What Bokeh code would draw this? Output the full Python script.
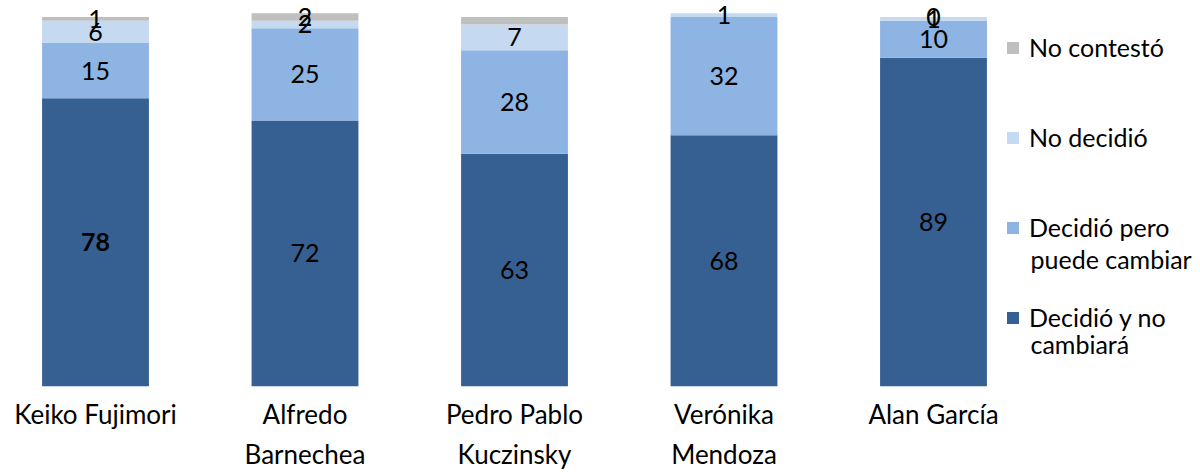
import numpy as np
from bokeh.plotting import figure
from bokeh.models import (ColumnDataSource, FixedTicker, Legend, LegendItem,
                          Label, Range1d)
from bokeh.core.properties import value
from bokeh.embed import file_html
from bokeh.resources import INLINE

# ---------------- data ----------------
candidates = ["Keiko Fujimori", "Alfredo\nBarnechea", "Pedro Pablo\nKuczinsky",
              "Verónika\nMendoza", "Alan García"]
decidio_no_cambiara = [78, 72, 63, 68, 89]
decidio_puede_cambiar = [15, 25, 28, 32, 10]
no_decidio = [6, 2, 7, 1, 1]
no_contesto = [1, 2, 2, 0, 0]
# which "No contestó" values carry a visible label in the original
no_contesto_labelled = [True, True, False, False, True]
bold_label = ("Decidió y no cambiará", 0)  # "78" is shown bold

series_keys = ["dnc", "dpc", "nd", "nc"]
series_names = ["Decidió y no cambiará", "Decidió pero puede cambiar",
                "No decidió", "No contestó"]
legend_first_lines = ["Decidió y no", "Decidió pero", "No decidió", "No contestó"]
legend_second_lines = ["cambiará", "puede cambiar", None, None]
colors = ["#366092", "#8DB4E2", "#C5D9F1", "#BFBFBF"]

FONT = "Lato"

# ---------------- geometry ----------------
W, H = 1200, 472
FRAME_BOTTOM = 385          # page px of y = 0
TOP100 = 16.5               # page px of y = 100
CAT_PX = 209.5
FIRST_CENTER_PX = 95
Y_PX = (FRAME_BOTTOM - TOP100) / 100.0
x_start = -FIRST_CENTER_PX / CAT_PX
x_end = x_start + W / CAT_PX
y_end = FRAME_BOTTOM / Y_PX

xs = list(range(len(candidates)))
src = ColumnDataSource(dict(x=xs, dnc=decidio_no_cambiara, dpc=decidio_puede_cambiar,
                            nd=no_decidio, nc=no_contesto))

p = figure(width=W, height=H, output_backend="svg", toolbar_location=None,
           x_range=Range1d(x_start, x_end), y_range=Range1d(0, y_end),
           y_axis_location=None, min_border_left=0, min_border_right=0,
           min_border_top=0, outline_line_color=None)
p.grid.visible = False
p.background_fill_color = "white"

renderers = p.vbar_stack(series_keys, x="x", width=0.51, source=src,
                         color=colors, line_color=None)

# ---------------- value labels ----------------
vals = np.array([decidio_no_cambiara, decidio_puede_cambiar, no_decidio, no_contesto], float)
cum = np.cumsum(vals, axis=0)
lx, ly, lt, ls = [], [], [], []
for si, name in enumerate(series_names):
    for ci in xs:
        if si == 3 and not no_contesto_labelled[ci]:
            continue
        lx.append(ci)
        ly.append(cum[si, ci] - vals[si, ci] / 2)
        lt.append(str(int(vals[si, ci])))
        ls.append("bold" if (name, ci) == bold_label else "normal")
lsrc = ColumnDataSource(dict(x=lx, y=ly, t=lt, s=ls))
p.text(x="x", y="y", text="t", source=lsrc, text_align="center",
       text_baseline="middle", text_font=value(FONT), text_font_size="25px",
       text_font_style="s", text_color="#000000")

# ---------------- x axis ----------------
ax = p.xaxis[0]
ax.ticker = FixedTicker(ticks=xs)
ax.major_label_overrides = {i: c for i, c in enumerate(candidates)}
ax.axis_line_color = None
ax.major_tick_line_color = None
ax.minor_tick_line_color = None
ax.major_tick_out = 0
ax.major_tick_in = 0
ax.major_label_standoff = 11
ax.major_label_text_font = FONT
ax.major_label_text_font_size = "26px"
ax.major_label_text_color = "#000000"
ax.major_label_text_line_height = 1.25

# ---------------- legend ----------------
order = [3, 2, 1, 0]
items = [LegendItem(label=legend_first_lines[i], renderers=[renderers[i]]) for i in order]
leg = Legend(items=items, location=(1005, 54), orientation="vertical",
             glyph_width=15, glyph_height=15, label_height=30, spacing=60,
             label_standoff=9, padding=0, margin=0, border_line_color=None,
             background_fill_alpha=0, label_text_font=FONT,
             label_text_font_size="25px", label_text_color="#000000")
p.add_layout(leg)

def px_to_x(px):
    return x_start + px / CAT_PX

def py_to_y(py):
    return (FRAME_BOTTOM - py) / Y_PX

second_line_baselines = {0: 343, 1: 258}
for i, bl in second_line_baselines.items():
    p.add_layout(Label(x=px_to_x(1030), y=py_to_y(bl), text=legend_second_lines[i],
                       text_font=FONT, text_font_size="25px", text_color="#000000",
                       text_baseline="alphabetic", text_align="left"))

open("out.html", "w").write(file_html(p, INLINE))
